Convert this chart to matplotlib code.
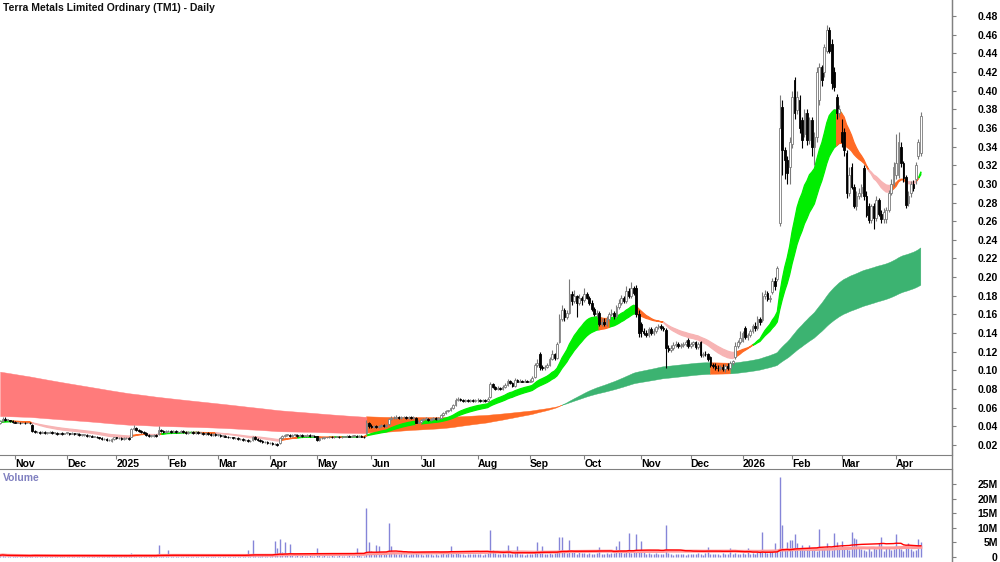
import matplotlib
matplotlib.use("Agg")
import matplotlib.pyplot as plt
import numpy as np
import pandas as pd
from matplotlib.lines import Line2D

plt.rcParams["font.family"] = ["Liberation Sans", "DejaVu Sans"]

title = "Terra Metals Limited Ordinary (TM1) - Daily"
last_day = "2026-04-17"
asx_holidays = ["2024-12-25", "2024-12-26", "2025-01-01", "2025-01-27", "2025-04-18",
                "2025-04-21", "2025-04-25", "2025-06-09", "2025-12-25", "2025-12-26",
                "2026-01-01", "2026-01-26", "2026-04-03", "2026-04-06"]

# --- daily prices in thousandths of a dollar, one row per month ---
open_ = [
    43, 46, 48, 47, 47, 46,
    45, 44, 44, 43, 44, 43, 44, 41, 35, 34, 34, 33, 34, 33, 33, 34, 33, 33, 32, 33, 32,
    33, 33, 32, 33, 32, 32, 31, 31, 31, 30, 30, 29, 29, 28, 27, 26, 26, 25, 24, 26,
    28, 27, 27, 26, 27, 27, 29, 37, 38, 36, 35, 34, 33, 31, 30, 30, 31, 32, 36, 35, 34,
    35, 35, 34, 35, 34, 34, 35, 34, 33, 34, 34, 33, 34, 33, 33, 32, 33, 32, 31, 32,
    31, 31, 30, 30, 29, 28, 28, 27, 27, 26, 26, 25, 25, 24, 25, 29, 26, 25, 24, 23, 23,
    22, 22, 21, 21, 22, 27, 30, 31, 31, 30, 31, 31, 30, 31, 30, 30, 31, 30, 30,
    30, 25, 27, 27, 28, 28, 29, 28, 29, 29, 28, 29, 29, 30, 29, 30, 30, 29, 30, 29, 33, 44,
    40, 39, 40, 39, 40, 41, 40, 42, 48, 49, 49, 50, 49, 50, 50, 49, 50, 49, 49, 44,
    45, 47, 48, 48, 47, 48, 49, 48, 49, 52, 54, 56, 57, 60, 63, 68, 69, 68, 67, 68, 67, 68, 67,
    68, 68, 67, 68, 67, 71, 85, 82, 80, 81, 80, 82, 84, 89, 86, 83, 90, 88, 89, 88, 89,
    88, 89, 93, 106, 118, 104, 102, 104, 106, 112, 118, 113, 130, 155, 165, 157, 162, 182, 174, 180, 172, 178,
    175, 182, 178, 172, 166, 160, 162, 150, 152, 150, 155, 160, 162, 158, 168, 172, 178, 174, 185, 180, 188, 188, 160,
    150, 142, 140, 138, 144, 140, 142, 146, 148, 145, 143, 124, 122, 124, 127, 128, 126, 127, 128, 133,
    126, 128, 130, 125, 130, 116, 118, 117, 114, 106, 105, 103, 102, 104, 101, 105, 103, 108, 114, 126, 130,
    132, 145, 136, 138, 142, 148, 145, 155, 154, 180, 183, 176, 184, 196, 198, 258, 382, 336, 326, 318,
    343, 411, 379, 390, 368, 354, 376, 347, 368, 340, 350, 390, 425, 420, 443, 465, 450, 420, 393, 376,
    356, 356, 333, 290, 318, 297, 276, 287, 290, 317, 287, 276, 261, 276, 263, 283, 268, 262, 262, 272, 290, 300,
    310, 310, 340, 322, 307, 280, 290, 300, 305, 330, 333,
]
high = [
    47, 50, 50, 48, 47, 47,
    46, 45, 45, 45, 45, 45, 45, 42, 36, 35, 35, 35, 35, 34, 35, 35, 34, 34, 33, 34, 33,
    34, 33, 34, 33, 33, 33, 32, 32, 32, 31, 31, 30, 30, 29, 28, 27, 27, 26, 27, 29,
    29, 28, 28, 28, 28, 28, 38, 41, 39, 37, 36, 35, 34, 32, 31, 32, 32, 40, 37, 36, 36,
    36, 36, 36, 36, 35, 36, 36, 35, 35, 35, 35, 35, 35, 34, 34, 34, 34, 33, 33, 33,
    32, 32, 31, 31, 30, 29, 29, 28, 28, 27, 27, 26, 26, 25, 30, 30, 27, 26, 25, 24, 24,
    23, 23, 22, 22, 28, 31, 32, 32, 32, 32, 32, 32, 32, 32, 31, 32, 32, 31, 31,
    30, 28, 28, 29, 29, 30, 30, 30, 30, 30, 30, 30, 31, 31, 31, 31, 31, 31, 31, 30, 47, 45,
    42, 41, 41, 41, 42, 42, 42, 49, 51, 51, 52, 51, 51, 51, 51, 51, 51, 51, 50, 47,
    48, 49, 50, 49, 49, 50, 50, 50, 53, 55, 57, 58, 61, 64, 70, 71, 70, 69, 69, 69, 69, 69, 69,
    70, 69, 69, 69, 71, 87, 86, 83, 83, 82, 84, 86, 91, 90, 87, 92, 91, 91, 90, 91, 90,
    91, 94, 108, 112, 120, 106, 106, 108, 114, 122, 119, 130, 160, 170, 167, 165, 198, 185, 186, 181, 182, 180,
    188, 184, 180, 175, 168, 165, 164, 156, 156, 158, 163, 166, 164, 170, 176, 181, 180, 190, 188, 195, 190, 192, 165,
    152, 145, 143, 146, 146, 145, 148, 150, 150, 148, 145, 127, 127, 130, 131, 130, 129, 130, 133, 135,
    130, 132, 132, 130, 131, 120, 121, 119, 115, 108, 108, 106, 106, 107, 107, 108, 110, 111, 130, 133, 142,
    142, 148, 140, 144, 150, 152, 158, 157, 184, 186, 185, 181, 199, 200, 212, 395, 390, 340, 330, 350,
    400, 415, 400, 395, 372, 380, 380, 372, 372, 356, 425, 430, 428, 450, 470, 468, 455, 425, 396, 385,
    370, 360, 336, 318, 322, 300, 292, 296, 300, 320, 292, 280, 278, 279, 287, 285, 272, 274, 275, 293, 305, 323,
    354, 356, 345, 325, 310, 292, 303, 304, 323, 348, 377,
]
low = [
    42, 45, 46, 46, 45, 44,
    43, 43, 42, 43, 42, 43, 42, 34, 33, 33, 32, 33, 32, 32, 33, 32, 32, 31, 32, 31, 32,
    32, 31, 32, 31, 31, 30, 30, 30, 29, 29, 28, 28, 27, 26, 25, 25, 24, 24, 23, 25,
    26, 26, 25, 25, 26, 25, 28, 36, 35, 34, 33, 32, 30, 29, 29, 29, 29, 31, 34, 33, 33,
    34, 33, 33, 33, 33, 33, 33, 32, 32, 33, 32, 32, 32, 32, 31, 31, 31, 30, 30, 30,
    30, 29, 29, 28, 27, 27, 26, 26, 25, 25, 24, 24, 23, 23, 24, 25, 24, 23, 22, 22, 21,
    21, 20, 20, 19, 21, 26, 29, 30, 29, 29, 30, 29, 29, 29, 29, 29, 29, 29, 28,
    24, 24, 26, 26, 27, 27, 27, 27, 28, 27, 27, 28, 28, 28, 28, 29, 28, 28, 28, 27, 32, 38,
    38, 38, 38, 38, 39, 39, 39, 41, 47, 48, 48, 48, 48, 49, 48, 48, 48, 48, 43, 43,
    44, 46, 47, 46, 46, 47, 47, 47, 48, 51, 53, 55, 56, 59, 62, 67, 67, 66, 66, 66, 66, 66, 66,
    66, 66, 66, 66, 66, 70, 81, 79, 79, 79, 79, 81, 83, 85, 82, 82, 87, 87, 87, 87, 87,
    87, 88, 92, 104, 100, 100, 100, 103, 105, 111, 111, 112, 129, 153, 153, 155, 160, 170, 172, 157, 170, 170,
    173, 176, 170, 164, 158, 157, 148, 148, 148, 148, 153, 158, 155, 156, 166, 170, 172, 172, 178, 178, 181, 157, 136,
    136, 138, 136, 136, 138, 138, 140, 144, 143, 142, 102, 120, 120, 122, 125, 124, 124, 125, 126, 124,
    124, 126, 123, 123, 114, 114, 115, 110, 104, 103, 100, 99, 100, 99, 98, 100, 101, 106, 112, 124, 128,
    130, 134, 133, 136, 140, 142, 143, 149, 152, 176, 174, 173, 182, 186, 196, 255, 310, 305, 300, 300,
    338, 370, 375, 355, 338, 350, 342, 343, 330, 320, 345, 385, 405, 415, 440, 440, 402, 400, 370, 372,
    340, 330, 285, 287, 294, 274, 272, 284, 286, 283, 264, 258, 258, 252, 260, 265, 258, 258, 258, 270, 288, 298,
    305, 306, 318, 302, 274, 276, 286, 292, 300, 327, 330,
]
close = [
    46, 48, 47, 47, 46, 45,
    44, 44, 43, 44, 43, 44, 43, 35, 34, 34, 33, 34, 33, 33, 34, 33, 33, 32, 33, 32, 33,
    33, 32, 33, 32, 32, 31, 31, 31, 30, 30, 29, 29, 28, 27, 26, 26, 25, 25, 26, 28,
    27, 27, 26, 27, 27, 26, 37, 38, 36, 35, 34, 33, 31, 30, 30, 31, 30, 36, 35, 34, 35,
    35, 34, 35, 34, 34, 35, 34, 33, 34, 34, 33, 34, 33, 33, 32, 33, 32, 31, 32, 31,
    31, 30, 30, 29, 28, 28, 27, 27, 26, 26, 25, 25, 24, 24, 29, 26, 25, 24, 23, 23, 22,
    22, 21, 21, 20, 27, 30, 31, 31, 30, 31, 31, 30, 31, 30, 30, 31, 30, 30, 29,
    25, 27, 27, 28, 28, 29, 28, 29, 29, 28, 29, 29, 30, 29, 30, 30, 29, 30, 29, 28, 44, 40,
    39, 40, 39, 40, 41, 40, 41, 48, 49, 49, 50, 49, 50, 50, 49, 50, 49, 50, 44, 45,
    47, 48, 48, 47, 48, 49, 48, 49, 52, 54, 56, 57, 60, 63, 68, 69, 68, 67, 68, 67, 68, 67, 68,
    68, 67, 68, 67, 69, 85, 82, 80, 81, 80, 82, 84, 89, 86, 83, 90, 88, 89, 88, 89, 88,
    89, 92, 106, 108, 104, 102, 104, 106, 112, 118, 113, 128, 155, 165, 157, 162, 182, 174, 180, 172, 178, 175,
    182, 178, 172, 166, 160, 162, 150, 152, 150, 155, 160, 162, 158, 168, 172, 178, 174, 185, 180, 188, 183, 160, 140,
    142, 140, 138, 144, 140, 142, 146, 148, 145, 144, 124, 122, 124, 127, 128, 126, 127, 128, 130, 126,
    128, 130, 125, 128, 116, 118, 117, 112, 106, 105, 103, 102, 104, 101, 105, 103, 108, 110, 126, 130, 135,
    140, 136, 138, 142, 148, 145, 155, 152, 180, 182, 176, 178, 196, 190, 210, 360, 336, 326, 312, 345,
    393, 376, 393, 360, 347, 376, 347, 368, 340, 350, 420, 425, 411, 447, 465, 443, 408, 404, 376, 380,
    345, 336, 290, 310, 297, 276, 287, 290, 297, 287, 267, 261, 276, 263, 283, 268, 262, 270, 272, 290, 300, 318,
    322, 345, 322, 306, 277, 287, 300, 296, 320, 345, 373,
]
# daily volume in units of 100k shares
volume = [
    6, 8, 5, 4, 5, 3,
    5, 4, 3, 6, 4, 5, 3, 9, 6, 4, 5, 3, 4, 6, 3, 4, 5, 3, 4, 6, 4,
    5, 3, 4, 6, 5, 4, 3, 5, 4, 6, 3, 4, 5, 3, 6, 4, 5, 3, 4, 7,
    4, 3, 5, 4, 3, 4, 15, 9, 6, 4, 5, 3, 4, 5, 3, 4, 5, 41, 12, 6, 8,
    23, 5, 4, 3, 5, 4, 3, 4, 5, 3, 4, 3, 5, 4, 3, 4, 5, 3, 4, 5,
    4, 3, 5, 4, 3, 6, 4, 3, 5, 4, 3, 5, 24, 4, 58, 12, 5, 4, 6, 3, 5,
    4, 6, 55, 32, 62, 18, 51, 9, 46, 7, 5, 6, 4, 7, 5, 4, 6, 5, 4,
    30, 8, 5, 6, 4, 5, 7, 4, 5, 6, 4, 5, 3, 6, 4, 5, 30, 7, 5, 4, 167, 50,
    22, 18, 40, 37, 15, 12, 10, 116, 36, 14, 12, 10, 14, 9, 11, 8, 10, 12, 15, 9,
    11, 8, 10, 12, 9, 7, 10, 8, 11, 13, 10, 15, 38, 12, 18, 14, 10, 12, 8, 11, 9, 10, 12,
    9, 11, 8, 10, 13, 92, 25, 14, 12, 10, 15, 11, 41, 12, 9, 14, 36, 10, 12, 8, 11,
    10, 12, 18, 53, 14, 39, 12, 10, 15, 11, 13, 20, 68, 67, 18, 14, 59, 20, 16, 12, 18, 14,
    15, 11, 13, 10, 12, 14, 35, 11, 10, 13, 12, 15, 14, 39, 55, 18, 14, 16, 82, 15, 20, 78, 24,
    55, 16, 12, 14, 10, 11, 13, 9, 12, 10, 110, 14, 10, 8, 11, 9, 12, 10, 8, 11,
    9, 12, 10, 14, 11, 8, 13, 35, 10, 12, 9, 11, 8, 13, 10, 12, 30, 11, 14, 9, 12,
    13, 10, 30, 12, 14, 11, 16, 18, 86, 20, 15, 18, 22, 47, 25, 275, 110, 28, 52, 59,
    59, 80, 48, 30, 42, 25, 28, 42, 30, 27, 22, 95, 35, 30, 47, 28, 24, 83, 52, 30,
    55, 30, 35, 25, 85, 64, 61, 30, 28, 24, 22, 35, 20, 30, 26, 48, 67, 22, 30, 35, 25, 28,
    80, 32, 28, 22, 35, 47, 26, 20, 24, 61, 52,
]

# moving average ribbons (periods) and the long averages carried in from before the window
short_periods = (19, 31)
long_periods = (150, 240)
short_seed = (0.045, 0.044)
long_seed = (0.051, 0.099)

o = np.array(open_) / 1000
h = np.array(high) / 1000
l = np.array(low) / 1000
c = np.array(close) / 1000
vol = np.array(volume) * 1e5
n = len(c)
x = np.arange(n)

dates = pd.bdate_range(end=last_day, periods=n, freq="C", holidays=asx_holidays)


def ema(values, period, seed):
    a = 2.0 / (period + 1)
    out = np.empty(len(values))
    prev = seed
    for i, v in enumerate(values):
        prev = prev + a * (v - prev)
        out[i] = prev
    return out


def ribbon(ax, fast, slow, colours, z, edge):
    rising = np.diff(fast) >= 0
    rising = np.r_[rising[0], rising]
    above = fast >= slow
    state = np.where(above & rising, 0, np.where(~above & ~rising, 2, 1))
    lo = np.minimum(fast, slow)
    hi = np.maximum(fast, slow)
    for k, col in enumerate(colours):
        m = state == k
        m = m | np.r_[False, m[:-1]]
        ax.fill_between(x, lo, hi, where=m, color=col, lw=edge, edgecolor=col, zorder=z)


fig = plt.figure(figsize=(10, 5.62), dpi=100)
ax = fig.add_axes([0, 107 / 562, 0.952, 455 / 562])
ax_v = fig.add_axes([0, 0, 0.952, 93 / 562])

# --- ribbons ---
lf = ema(c, long_periods[0], long_seed[0])
ls = ema(c, long_periods[1], long_seed[1])
ribbon(ax, lf, ls, ("#3cb371", "#ff6a24", "#ff7b7b"), 1, 0.3)
sf = ema(c, short_periods[0], short_seed[0])
ss = ema(c, short_periods[1], short_seed[1])
ribbon(ax, sf, ss, ("#00ee00", "#ff6a24", "#f7b4b4"), 2, 0.9)

# --- candles ---
up = c >= o
edge_col = np.where(up, "#7a7a7a", "#000000")
face_col = np.where(up, "#ffffff", "#000000")
ax.vlines(x, l, h, colors=edge_col, lw=0.8, zorder=3)
body = np.maximum(np.abs(c - o), 0.0004)
ax.bar(x, body, bottom=np.minimum(o, c), width=0.7, color=face_col,
       edgecolor=edge_col, linewidth=0.6, zorder=4)

ax.set_xlim(-0.06, 384.6)
ax.set_ylim(0.0092, 0.4972)

# month ticks
month = dates.to_period("M")
starts = [i for i in range(1, n) if month[i] != month[i - 1]]
labels = [str(dates[i].year) if dates[i].month == 1 else dates[i].strftime("%b") for i in starts]
ax.set_xticks(starts)
ax.set_xticklabels(labels, ha="left", fontsize=7.5, fontweight="bold")
ax.tick_params(axis="x", direction="out", length=3, pad=0, color="#808080")

ax.yaxis.tick_right()
price_ticks = np.round(np.arange(0.02, 0.481, 0.02), 2)
ax.set_yticks(price_ticks)
ax.set_yticklabels([f"{t:.2f}" for t in price_ticks], fontsize=7.5, fontweight="bold")
ax.tick_params(axis="y", direction="out", length=3, pad=30, color="#808080")
for t in ax.get_yticklabels():
    t.set_horizontalalignment("right")

for s in ("left", "top"):
    ax.spines[s].set_visible(False)
for s in ("bottom", "right"):
    ax.spines[s].set_color("#808080")

# --- volume ---
ax_v.vlines(x, 0, vol, colors="#8585d8", lw=1.0)
vs = pd.Series(vol)
ax_v.plot(x, vs.rolling(100, min_periods=1).mean(), color="#ff9a9a", lw=2.2)
ax_v.plot(x, vs.rolling(50, min_periods=1).mean(), color="#ff0000", lw=1.0)
ax_v.set_xlim(-0.06, 384.6)
ax_v.set_ylim(-1.71e6, 30.14e6)
ax_v.set_xticks([])
ax_v.yaxis.tick_right()
vol_ticks = [0, 5e6, 10e6, 15e6, 20e6, 25e6]
ax_v.set_yticks(vol_ticks)
ax_v.set_yticklabels(["0", "5M", "10M", "15M", "20M", "25M"], fontsize=7.5, fontweight="bold")
ax_v.tick_params(axis="y", direction="out", length=3, pad=30, color="#808080")
for t in ax_v.get_yticklabels():
    t.set_horizontalalignment("right")
for s in ("left", "bottom"):
    ax_v.spines[s].set_visible(False)
for s in ("top", "right"):
    ax_v.spines[s].set_color("#808080")

fig.add_artist(Line2D([0.952, 0.952], [0, 1], transform=fig.transFigure, color="#808080", lw=1))
fig.text(0.003, 1 - 8 / 562, title, ha="left", va="center", fontsize=7.5, fontweight="bold", color="#111111")
fig.text(0.003, 1 - 478 / 562, "Volume", ha="left", va="center", fontsize=7.5,
         fontweight="bold", color="#8080c0")

fig.savefig("out.png", dpi=100, facecolor="white")
